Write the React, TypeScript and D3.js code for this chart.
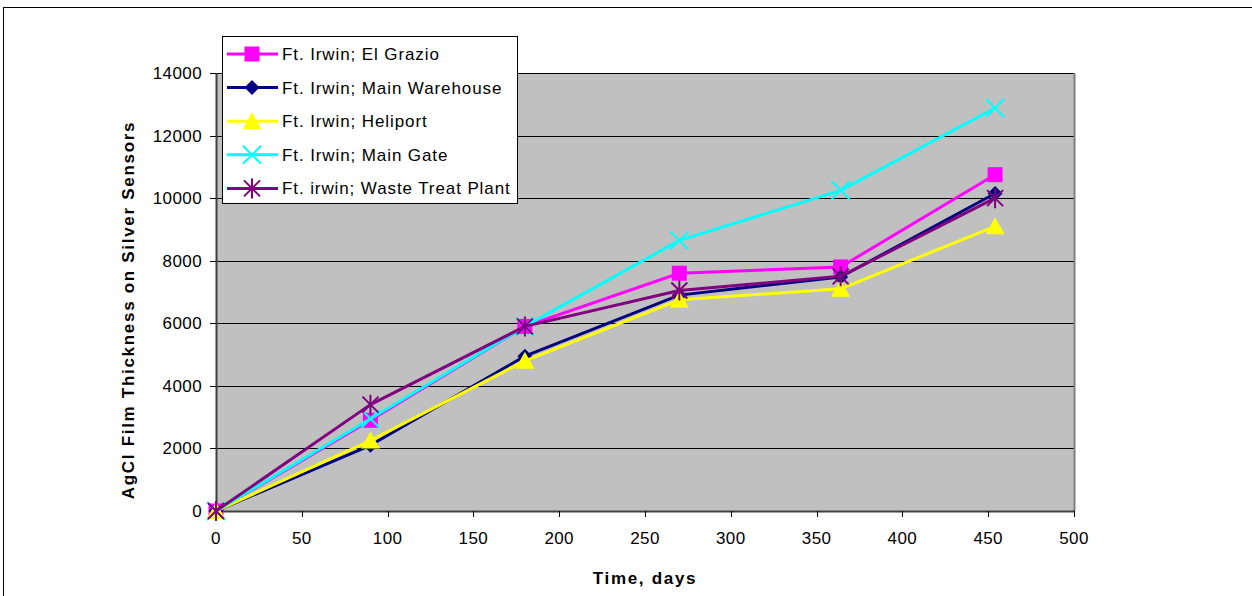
import React from "react";
import * as d3 from "d3";

// Exposure times (days) shared by every sensor series
const days = [0, 90, 180, 270, 364, 454];

// AgCl film thickness per site
const elGrazio = [0, 2900, 5900, 7600, 7800, 10750];
const mainWarehouse = [0, 2100, 4950, 6900, 7480, 10150];
const heliport = [0, 2250, 4800, 6750, 7100, 9100];
const mainGate = [0, 2950, 5900, 8650, 10250, 12880];
const wasteTreat = [0, 3400, 5900, 7050, 7500, 10000];

const seriesNames = [
  "Ft. Irwin; El Grazio",
  "Ft. Irwin; Main Warehouse",
  "Ft. Irwin; Heliport",
  "Ft. Irwin; Main Gate",
  "Ft. irwin; Waste Treat Plant",
];

const xTicks = [0, 50, 100, 150, 200, 250, 300, 350, 400, 450, 500];
const yTicks = [0, 2000, 4000, 6000, 8000, 10000, 12000, 14000];

type MarkerKind = "square" | "diamond" | "triangle" | "x" | "star";

const series: { name: string; values: number[]; color: string; marker: MarkerKind }[] = [
  { name: seriesNames[0], values: elGrazio, color: "#FF00FF", marker: "square" },
  { name: seriesNames[1], values: mainWarehouse, color: "#000080", marker: "diamond" },
  { name: seriesNames[2], values: heliport, color: "#FFFF00", marker: "triangle" },
  { name: seriesNames[3], values: mainGate, color: "#00FFFF", marker: "x" },
  { name: seriesNames[4], values: wasteTreat, color: "#800080", marker: "star" },
];

const W = 1252;
const H = 596;
const plot = { left: 216, right: 1074, top: 73, bottom: 511 };
const FONT = "'Liberation Sans', Arial, sans-serif";

function Marker({ kind, cx, cy, color }: { kind: MarkerKind; cx: number; cy: number; color: string }) {
  switch (kind) {
    case "square":
      return <rect x={cx - 7.5} y={cy - 7.5} width={15} height={15} fill={color} />;
    case "diamond":
      return (
        <path
          d={`M${cx},${cy - 7.5}L${cx + 7.5},${cy}L${cx},${cy + 7.5}L${cx - 7.5},${cy}Z`}
          fill={color}
        />
      );
    case "triangle":
      return (
        <path
          d={`M${cx},${cy - 9}L${cx + 9.5},${cy + 8}L${cx - 9.5},${cy + 8}Z`}
          fill={color}
        />
      );
    case "x":
      return (
        <path
          d={`M${cx - 9},${cy - 9}L${cx + 9},${cy + 9}M${cx + 9},${cy - 9}L${cx - 9},${cy + 9}`}
          stroke={color}
          strokeWidth={2}
          fill="none"
        />
      );
    case "star":
      return (
        <path
          d={`M${cx - 8},${cy - 8}L${cx + 8},${cy + 8}M${cx + 8},${cy - 8}L${cx - 8},${cy + 8}M${cx},${cy - 10}L${cx},${cy + 10}`}
          stroke={color}
          strokeWidth={2}
          fill="none"
        />
      );
  }
  return null;
}

export default function App() {
  const x = d3.scaleLinear().domain([0, 500]).range([plot.left, plot.right]);
  const y = d3.scaleLinear().domain([0, 14000]).range([plot.bottom, plot.top]);

  const line = d3
    .line<number>()
    .x((_, i) => x(days[i]))
    .y((v) => y(v));

  const legend = { x: 222.5, y: 36.5, w: 295, h: 167, rowStart: 54, rowGap: 33.6 };

  return (
    <svg
      width={W}
      height={H}
      style={{ position: "absolute", left: 0, top: 0, background: "#fff" }}
      fontFamily={FONT}
    >
      {/* chart frame */}
      <rect x={3.5} y={7.5} width={1300} height={700} fill="#fff" stroke="#000" strokeWidth={1} />

      {/* plot area */}
      <rect
        x={plot.left}
        y={plot.top}
        width={plot.right - plot.left}
        height={plot.bottom - plot.top}
        fill="#C0C0C0"
      />
      {yTicks.map((t) => (
        <line
          key={`g${t}`}
          x1={plot.left}
          x2={plot.right}
          y1={Math.round(y(t)) + 0.5}
          y2={Math.round(y(t)) + 0.5}
          stroke="#000"
          strokeWidth={1}
        />
      ))}
      <line x1={plot.right + 0.5} x2={plot.right + 0.5} y1={plot.top} y2={plot.bottom} stroke="#808080" strokeWidth={2} />

      {/* axes */}
      <line x1={plot.left + 0.5} x2={plot.left + 0.5} y1={plot.top} y2={plot.bottom + 1} stroke="#404040" strokeWidth={2} />
      <line x1={plot.left} x2={plot.right + 1} y1={plot.bottom + 0.5} y2={plot.bottom + 0.5} stroke="#404040" strokeWidth={2} />

      {yTicks.map((t) => (
        <g key={`yt${t}`}>
          <line
            x1={plot.left - 6}
            x2={plot.left}
            y1={Math.round(y(t)) + 0.5}
            y2={Math.round(y(t)) + 0.5}
            stroke="#000"
          />
          <text x={202} y={y(t) + 6} textAnchor="end" fontSize={17} letterSpacing={0.4}>
            {t}
          </text>
        </g>
      ))}
      {xTicks.map((t) => (
        <g key={`xt${t}`}>
          <line
            x1={Math.round(x(t)) + 0.5}
            x2={Math.round(x(t)) + 0.5}
            y1={plot.bottom}
            y2={plot.bottom + 6}
            stroke="#000"
          />
          <text x={x(t)} y={544} textAnchor="middle" fontSize={17} letterSpacing={0.4}>
            {t}
          </text>
        </g>
      ))}

      {/* axis titles */}
      <text
        x={(plot.left + plot.right) / 2}
        y={584}
        textAnchor="middle"
        fontSize={17}
        fontWeight="bold"
        letterSpacing={1.7}
      >
        Time, days
      </text>
      <text
        transform={`translate(134, ${(plot.top + plot.bottom) / 2 + 18}) rotate(-90)`}
        textAnchor="middle"
        fontSize={17}
        fontWeight="bold"
        letterSpacing={1.7}
      >
        AgCl Film Thickness on Silver Sensors
      </text>

      {/* series */}
      {series.map((s) => (
        <g key={s.name}>
          <path d={line(s.values) ?? ""} fill="none" stroke={s.color} strokeWidth={3} strokeLinejoin="round" />
          {s.values.map((v, i) => (
            <Marker key={i} kind={s.marker} cx={x(days[i])} cy={y(v)} color={s.color} />
          ))}
        </g>
      ))}

      {/* legend */}
      <rect x={legend.x} y={legend.y} width={legend.w} height={legend.h} fill="#fff" stroke="#000" strokeWidth={1} />
      {series.map((s, i) => {
        const cy = legend.rowStart + i * legend.rowGap;
        return (
          <g key={`lg${i}`}>
            <line x1={227} x2={278} y1={cy} y2={cy} stroke={s.color} strokeWidth={3} />
            <Marker kind={s.marker} cx={252} cy={cy} color={s.color} />
            <text x={282} y={cy + 6} fontSize={17} letterSpacing={0.9}>
              {s.name}
            </text>
          </g>
        );
      })}
    </svg>
  );
}
